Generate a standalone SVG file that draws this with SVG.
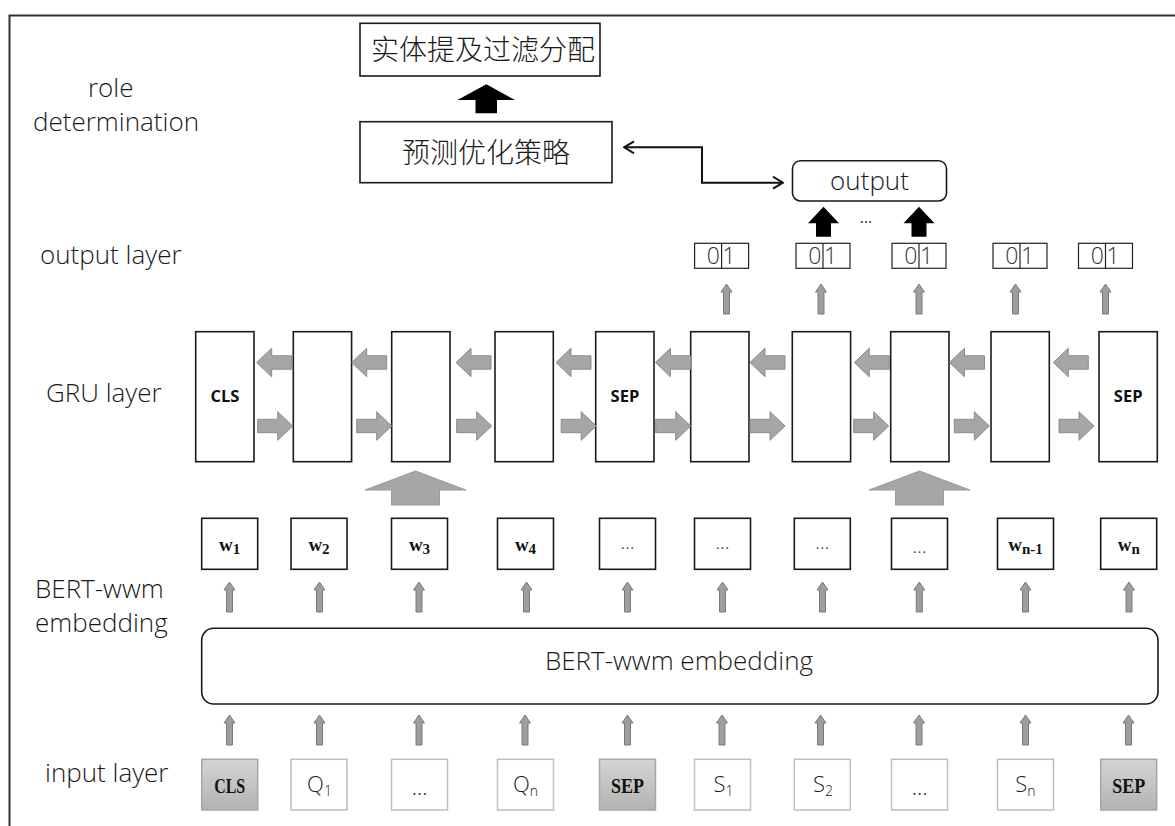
<svg xmlns="http://www.w3.org/2000/svg" width="1175" height="826" viewBox="0 0 1175 826">
<defs>
<style>
.lbl{font-family:'Open Sans','Noto Sans',sans-serif;font-weight:300;font-size:26px;fill:#1a1a1a}
.cjk{font-family:'Noto Sans CJK SC','Noto Sans CJK TC',sans-serif;font-weight:300;font-size:28px;fill:#1a1a1a;text-anchor:middle}
.box{fill:none;stroke:#1a1a1a;stroke-width:1.6}
.bin{fill:none;stroke:#222;stroke-width:1.2}
.dig{font-family:'Open Sans','Noto Sans',sans-serif;font-weight:300;font-size:23px;fill:#333}
.gb{font-family:'Open Sans','Liberation Sans',sans-serif;font-weight:700;font-size:16.5px;fill:#111;text-anchor:middle}
.wl{font-family:'Liberation Serif',serif;font-weight:700;font-size:19px;fill:#111;text-anchor:middle}
.dots{font-family:'Liberation Serif',serif;font-size:14px;fill:#333;text-anchor:middle}
.ib{fill:#fff;stroke:#bfbfbf;stroke-width:1.5}
.is{fill:url(#g);stroke:#a6a6a6;stroke-width:1.5}
.il{font-family:'Open Sans','Noto Sans',sans-serif;font-weight:300;font-size:22px;fill:#1a1a1a;text-anchor:middle}
.sl{font-family:'Liberation Serif',serif;font-weight:700;font-size:21px;fill:#111;text-anchor:middle}
.ha{fill:#a6a6a6;stroke:#8c8c8c;stroke-width:1}
.sa{fill:#9e9e9e;stroke:#7a7a7a;stroke-width:1}
.big{fill:#a6a6a6;stroke:#9a9a9a;stroke-width:1}
.bk{fill:#000}
</style>
<linearGradient id="g" x1="0" y1="0" x2="0" y2="1"><stop offset="0" stop-color="#d4d4d4"/><stop offset="1" stop-color="#b3b3b3"/></linearGradient>
<path id="la" d="M0,0 L15,-14.3 L15,-6.7 L35,-6.7 L35,6.7 L15,6.7 L15,14.3 Z"/>
<path id="ra" d="M0,0 L-15,-14.3 L-15,-6.7 L-35,-6.7 L-35,6.7 L-15,6.7 L-15,14.3 Z"/>
<path id="ua" d="M0,0 L5.5,8 L3,8 L3,30 L-3,30 L-3,8 L-5.5,8 Z"/>
<marker id="oa" markerWidth="12" markerHeight="14" refX="11" refY="7" orient="auto-start-reverse" markerUnits="userSpaceOnUse"><path d="M1,1 L11,7 L1,13" fill="none" stroke="#111" stroke-width="2"/></marker>
</defs>
<rect width="1175" height="826" fill="#fff"/>
<path id="frame" d="M9.5,826 V15.5 H1175" fill="none" stroke="#333" stroke-width="2"/>

<g id="labels">
<text class="lbl" x="88" y="97">role</text>
<text class="lbl" x="33" y="131">determination</text>
<text class="lbl" x="40" y="264">output layer</text>
<text class="lbl" x="46" y="402">GRU layer</text>
<text class="lbl" x="35" y="598">BERT-wwm</text>
<text class="lbl" x="35" y="632">embedding</text>
<text class="lbl" x="45" y="782">input layer</text>
</g>

<g id="n-entity"><rect class="box" x="360" y="23.3" width="240" height="52.7"/><text class="cjk" x="483" y="60">实体提及过滤分配</text></g>
<g id="n-predict"><rect class="box" x="360" y="121.7" width="252" height="61"/><text class="cjk" x="486" y="162.5">预测优化策略</text></g>
<g id="n-output"><rect class="box" x="792.5" y="160.7" width="154" height="40.3" rx="8"/><text class="lbl" x="869.5" y="190" text-anchor="middle">output</text></g>

<g id="n-bin1"><rect class="bin" x="694.6" y="243.3" width="54" height="25"/><line x1="721.6" y1="243.3" x2="721.6" y2="268.3" stroke="#222" stroke-width="1.2"/><text class="dig" x="720" y="264" text-anchor="end">0</text><text class="dig" x="722.6" y="264">1</text></g>
<g id="n-bin2"><rect class="bin" x="796" y="243.3" width="54" height="25"/><line x1="823" y1="243.3" x2="823" y2="268.3" stroke="#222" stroke-width="1.2"/><text class="dig" x="821.4" y="264" text-anchor="end">0</text><text class="dig" x="824" y="264">1</text></g>
<g id="n-bin3"><rect class="bin" x="892" y="243.3" width="54" height="25"/><line x1="919" y1="243.3" x2="919" y2="268.3" stroke="#222" stroke-width="1.2"/><text class="dig" x="917.4" y="264" text-anchor="end">0</text><text class="dig" x="920" y="264">1</text></g>
<g id="n-bin4"><rect class="bin" x="993" y="243.3" width="54" height="25"/><line x1="1020" y1="243.3" x2="1020" y2="268.3" stroke="#222" stroke-width="1.2"/><text class="dig" x="1018.4" y="264" text-anchor="end">0</text><text class="dig" x="1021" y="264">1</text></g>
<g id="n-bin5"><rect class="bin" x="1078.5" y="243.3" width="54" height="25"/><line x1="1105.5" y1="243.3" x2="1105.5" y2="268.3" stroke="#222" stroke-width="1.2"/><text class="dig" x="1103.9" y="264" text-anchor="end">0</text><text class="dig" x="1106.5" y="264">1</text></g>

<g id="n-gru1"><rect class="box" x="195.7" y="331.7" width="58.3" height="130"/><text class="gb" x="224.9" y="402">CLS</text></g>
<g id="n-gru2"><rect class="box" x="293.3" y="331.7" width="58.3" height="130"/></g>
<g id="n-gru3"><rect class="box" x="391.7" y="331.7" width="58.3" height="130"/></g>
<g id="n-gru4"><rect class="box" x="495" y="331.7" width="58.3" height="130"/></g>
<g id="n-gru5"><rect class="box" x="595.7" y="331.7" width="58.3" height="130"/><text class="gb" x="624.9" y="402">SEP</text></g>
<g id="n-gru6"><rect class="box" x="690.7" y="331.7" width="58.3" height="130"/></g>
<g id="n-gru7"><rect class="box" x="792.3" y="331.7" width="58.3" height="130"/></g>
<g id="n-gru8"><rect class="box" x="890.7" y="331.7" width="58.3" height="130"/></g>
<g id="n-gru9"><rect class="box" x="991" y="331.7" width="58.3" height="130"/></g>
<g id="n-gru10"><rect class="box" x="1099" y="331.7" width="58.3" height="130"/><text class="gb" x="1128.2" y="402">SEP</text></g>

<g id="n-w1"><rect class="box" x="201.7" y="518.3" width="56" height="51"/><text class="wl" x="229.7" y="551">w<tspan font-size="15" dy="3">1</tspan></text></g>
<g id="n-w2"><rect class="box" x="291" y="518.3" width="56" height="51"/><text class="wl" x="319" y="551">w<tspan font-size="15" dy="3">2</tspan></text></g>
<g id="n-w3"><rect class="box" x="391.5" y="518.3" width="56" height="51"/><text class="wl" x="419.5" y="551">w<tspan font-size="15" dy="3">3</tspan></text></g>
<g id="n-w4"><rect class="box" x="497.5" y="518.3" width="56" height="51"/><text class="wl" x="525.5" y="551">w<tspan font-size="15" dy="3">4</tspan></text></g>
<g id="n-w5"><rect class="box" x="599.5" y="518.3" width="56" height="51"/><text class="dots" x="627.5" y="549">…</text></g>
<g id="n-w6"><rect class="box" x="694.5" y="518.3" width="56" height="51"/><text class="dots" x="722.5" y="549">…</text></g>
<g id="n-w7"><rect class="box" x="794.3" y="518.3" width="56" height="51"/><text class="dots" x="822.3" y="549">…</text></g>
<g id="n-w8"><rect class="box" x="891.5" y="518.3" width="56" height="51"/><text class="dots" x="919.5" y="553">…</text></g>
<g id="n-w9"><rect class="box" x="997.5" y="518.3" width="56" height="51"/><text class="wl" x="1025.5" y="551">w<tspan font-size="15" dy="3">n-1</tspan></text></g>
<g id="n-w10"><rect class="box" x="1100.7" y="518.3" width="56" height="51"/><text class="wl" x="1128.7" y="551">w<tspan font-size="15" dy="3">n</tspan></text></g>

<g id="n-bert"><rect class="box" x="201.7" y="628.3" width="956.3" height="75.7" rx="12"/><text class="lbl" x="679" y="670" text-anchor="middle">BERT-wwm embedding</text></g>

<g id="n-in1"><rect class="is" x="201.7" y="759.3" width="56" height="50.7"/><text class="sl" x="229.7" y="792.7" textLength="31" lengthAdjust="spacingAndGlyphs">CLS</text></g>
<g id="n-in2"><rect class="ib" x="291" y="759.3" width="56" height="50.7"/><text class="il" x="319.5" y="792">Q<tspan font-size="14" dy="4">1</tspan></text></g>
<g id="n-in3"><rect class="ib" x="391.5" y="759.3" width="56" height="50.7"/><text class="il" x="419.5" y="795" font-size="16">…</text></g>
<g id="n-in4"><rect class="ib" x="497.5" y="759.3" width="56" height="50.7"/><text class="il" x="525.5" y="792">Q<tspan font-size="14" dy="4">n</tspan></text></g>
<g id="n-in5"><rect class="is" x="599.5" y="759.3" width="56" height="50.7"/><text class="sl" x="627.5" y="792.7" textLength="33" lengthAdjust="spacingAndGlyphs">SEP</text></g>
<g id="n-in6"><rect class="ib" x="694.5" y="759.3" width="56" height="50.7"/><text class="il" x="723.5" y="792">S<tspan font-size="14" dy="4">1</tspan></text></g>
<g id="n-in7"><rect class="ib" x="794.3" y="759.3" width="56" height="50.7"/><text class="il" x="823" y="792">S<tspan font-size="14" dy="4">2</tspan></text></g>
<g id="n-in8"><rect class="ib" x="891.5" y="759.3" width="56" height="50.7"/><text class="il" x="919.5" y="795" font-size="16">…</text></g>
<g id="n-in9"><rect class="ib" x="997.5" y="759.3" width="56" height="50.7"/><text class="il" x="1025.5" y="792">S<tspan font-size="14" dy="4">n</tspan></text></g>
<g id="n-in10"><rect class="is" x="1100.7" y="759.3" width="56" height="50.7"/><text class="sl" x="1128.7" y="792.7" textLength="33" lengthAdjust="spacingAndGlyphs">SEP</text></g>

<g id="connectors">
<path class="bk" d="M486.3,84.3 L515,100 L497,100 L497,113.3 L475.5,113.3 L475.5,100 L457.5,100 Z"/>
<path d="M624,147.3 H702 V182.7 H783" fill="none" stroke="#111" stroke-width="2" marker-start="url(#oa)" marker-end="url(#oa)"/>
<path class="bk" d="M823.5,206.7 L839,223.3 L831,223.3 L831,236.7 L816,236.7 L816,223.3 L808,223.3 Z"/>
<path class="bk" d="M919,206.7 L934.5,223.3 L926.5,223.3 L926.5,236.7 L911.5,236.7 L911.5,223.3 L903.5,223.3 Z"/>
<text x="866" y="223" font-family="'Open Sans',sans-serif" font-size="16" fill="#333" text-anchor="middle">…</text>
<g class="sa">
<use href="#ua" x="726.5" y="284"/><use href="#ua" x="821" y="284"/><use href="#ua" x="919" y="284"/><use href="#ua" x="1015.5" y="284"/><use href="#ua" x="1105.5" y="284"/>
<use href="#ua" x="229.5" y="582"/><use href="#ua" x="319.5" y="582"/><use href="#ua" x="419" y="582"/><use href="#ua" x="526.5" y="582"/><use href="#ua" x="627.5" y="582"/><use href="#ua" x="722.5" y="582"/><use href="#ua" x="822.5" y="582"/><use href="#ua" x="919.3" y="582"/><use href="#ua" x="1025.5" y="582"/><use href="#ua" x="1129" y="582"/>
<use href="#ua" x="229.5" y="715"/><use href="#ua" x="319.5" y="715"/><use href="#ua" x="419" y="715"/><use href="#ua" x="525" y="715"/><use href="#ua" x="627.5" y="715"/><use href="#ua" x="722" y="715"/><use href="#ua" x="820.5" y="715"/><use href="#ua" x="919" y="715"/><use href="#ua" x="1025.5" y="715"/><use href="#ua" x="1128.5" y="715"/>
</g>
<g class="ha">
<use href="#la" x="256.7" y="362.5"/><use href="#la" x="351.7" y="362.5"/><use href="#la" x="456" y="362.5"/><use href="#la" x="556" y="362.5"/><use href="#la" x="655.5" y="362.5"/><use href="#la" x="750" y="362.5"/><use href="#la" x="854.3" y="362.5"/><use href="#la" x="949.5" y="362.5"/><use href="#la" x="1053.3" y="362.5"/>
<use href="#ra" x="292.7" y="426"/><use href="#ra" x="391.7" y="426"/><use href="#ra" x="491.7" y="426"/><use href="#ra" x="596.2" y="426"/><use href="#ra" x="690.7" y="426"/><use href="#ra" x="785" y="426"/><use href="#ra" x="888.7" y="426"/><use href="#ra" x="989.3" y="426"/><use href="#ra" x="1094" y="426"/>
</g>
<path class="big" d="M415.5,471 L466,490 L439.5,490 L439.5,505 L391.5,505 L391.5,490 L365,490 Z"/>
<path class="big" d="M919.5,471 L970,490 L943.5,490 L943.5,505 L895.5,505 L895.5,490 L869,490 Z"/>
</g>
</svg>
